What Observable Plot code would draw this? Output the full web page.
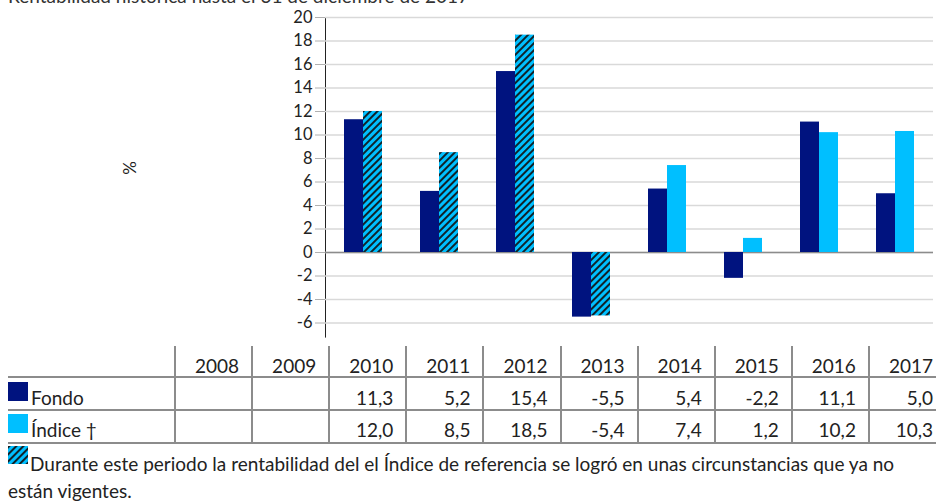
<!DOCTYPE html>
<html>
<head>
<meta charset="utf-8">
<script src="https://cdn.jsdelivr.net/npm/d3@7"></script>
<script src="https://cdn.jsdelivr.net/npm/@observablehq/plot@0.6"></script>
<style>
  html, body { margin: 0; padding: 0; background: #fff; }
  #wrap { position: relative; width: 936px; height: 501px; overflow: hidden; font-family: Lato, "Open Sans", sans-serif; color: #222; }
  #title { position: absolute; left: 8px; top: -16px; font-size: 19px; white-space: nowrap; color: #333; }
  #ylabel { position: absolute; left: 120px; top: 158px; width: 20px; height: 20px; line-height: 20px; text-align: center; font-size: 17px; transform: rotate(-90deg); }
  #chart { position: absolute; left: 0; top: 0; }
  #chart svg [aria-label*="y-axis"] line, #chart svg [aria-label*="y-axis"] path { stroke: #b0b0b0; }
  .cell { position: absolute; font-size: 19px; white-space: nowrap; }
  .hl { position: absolute; height: 2px; background: #8c8c8c; }
  .vl { position: absolute; width: 2px; background: #8c8c8c; }
  .sw { position: absolute; width: 20px; height: 19px; }
</style>
</head>
<body>
<div id="wrap">
  <div id="title">Rentabilidad histórica hasta el 31 de diciembre de 2017</div>
  <div id="chart"></div>
  <div id="ylabel">%</div>
  <div id="table"></div>
</div>
<script>
const years = ["2008","2009","2010","2011","2012","2013","2014","2015","2016","2017"];
const fondo = [null, null, 11.3, 5.2, 15.4, -5.5, 5.4, -2.2, 11.1, 5.0];
const indice = [null, null, 12.0, 8.5, 18.5, -5.4, 7.4, 1.2, 10.2, 10.3];
const hatchedYears = ["2010","2011","2012","2013"];
const series = ["Fondo", "Índice †"];
const yTicks = [-6,-4,-2,0,2,4,6,8,10,12,14,16,18,20];
const footnoteLines = ["Durante este periodo la rentabilidad del el Índice de referencia se logró en unas circunstancias que ya no", "están vigentes."];

const navy = "#00137f";
const sky = "#00bfff";

const rows = [];
years.forEach((y, i) => {
  if (fondo[i] != null) rows.push({year: y, serie: series[0], value: fondo[i], hatched: false});
  if (indice[i] != null) rows.push({year: y, serie: series[1], value: indice[i], hatched: hatchedYears.includes(y)});
});

const chart = Plot.plot({
  width: 936,
  height: 345,
  marginLeft: 170,
  marginRight: 0,
  marginTop: 17,
  marginBottom: 8.4,
  style: {fontFamily: "Lato, 'Open Sans', sans-serif", fontSize: "16.5px", color: "#222", background: "transparent"},
  facet: {data: rows, x: "year"},
  fx: {domain: years, padding: 0, axis: null},
  x: {domain: series, paddingInner: 0, paddingOuter: 1, axis: null},
  y: {domain: [-7.2, 20], ticks: yTicks, tickSize: 10, tickPadding: 3, tickFormat: d => String(d), label: null, line: true},
  marks: [
    Plot.ruleY(yTicks, {stroke: "#d9d9d9", strokeWidth: 1.5}),
    Plot.ruleY([0], {stroke: "#8c8c8c", strokeWidth: 1.5}),
    Plot.barY(rows, {filter: d => d.serie === series[0], x: "serie", y: "value", fill: navy}),
    Plot.barY(rows, {filter: d => d.serie === series[1] && !d.hatched, x: "serie", y: "value", fill: sky}),
    Plot.barY(rows, {filter: d => d.serie === series[1] && d.hatched, x: "serie", y: "value", fill: "url(#hatch)"})
  ]
});

const svgEl = chart.tagName.toLowerCase() === "svg" ? chart : chart.querySelector("svg");
const defs = d3.select(svgEl).insert("defs", ":first-child");
const pat = defs.append("pattern").attr("id", "hatch").attr("patternUnits", "userSpaceOnUse")
  .attr("width", 5).attr("height", 5).attr("patternTransform", "rotate(45)");
pat.append("rect").attr("width", 5).attr("height", 5).attr("fill", sky);
pat.append("line").attr("x1", 1).attr("y1", 0).attr("x2", 1).attr("y2", 5).attr("stroke", "#111").attr("stroke-width", 1.8);

document.getElementById("chart").appendChild(chart);

const table = document.getElementById("table");
const colX0 = 175, colW = 77.1;
const lineY = [377, 410, 443];
const fmt = v => v == null ? "" : v.toFixed(1).replace(".", ",");

function add(cls, css, text) {
  const el = document.createElement("div");
  el.className = cls;
  Object.assign(el.style, css);
  if (text != null) el.textContent = text;
  table.appendChild(el);
  return el;
}
lineY.forEach(y => add("hl", {left: "8px", top: (y - 1) + "px", width: "940px"}));
for (let i = 0; i < years.length; i++) {
  add("vl", {left: (colX0 + i * colW - 1) + "px", top: "346px", height: "97px"});
}
const rowBase = [372, 404, 436];
years.forEach((y, i) => {
  const right = 936 - (colX0 + (i + 1) * colW - 13);
  add("cell", {right: right + "px", top: (rowBase[0] - 18) + "px", textAlign: "right"}, y);
  add("cell", {right: right + "px", top: (rowBase[1] - 18) + "px", textAlign: "right"}, fmt(fondo[i]));
  add("cell", {right: right + "px", top: (rowBase[2] - 18) + "px", textAlign: "right"}, fmt(indice[i]));
});
add("sw", {left: "8px", top: "382px", background: navy});
add("cell", {left: "31px", top: (rowBase[1] - 18) + "px"}, series[0]);
add("sw", {left: "8px", top: "414px", background: sky});
add("cell", {left: "31px", top: (rowBase[2] - 18) + "px"}, series[1]);
const swH = add("sw", {left: "8px", top: "446px"});
swH.innerHTML = '<svg width="20" height="18"><defs><pattern id="hatch2" patternUnits="userSpaceOnUse" width="5" height="5" patternTransform="rotate(45)"><rect width="5" height="5" fill="' + sky + '"/><line x1="1" y1="0" x2="1" y2="5" stroke="#111" stroke-width="1.8"/></pattern></defs><rect width="20" height="18" fill="url(#hatch2)"/></svg>';
add("cell", {left: "30px", top: "452px"}, footnoteLines[0]);
add("cell", {left: "8px", top: "479px"}, footnoteLines[1]);
</script>
</body>
</html>
